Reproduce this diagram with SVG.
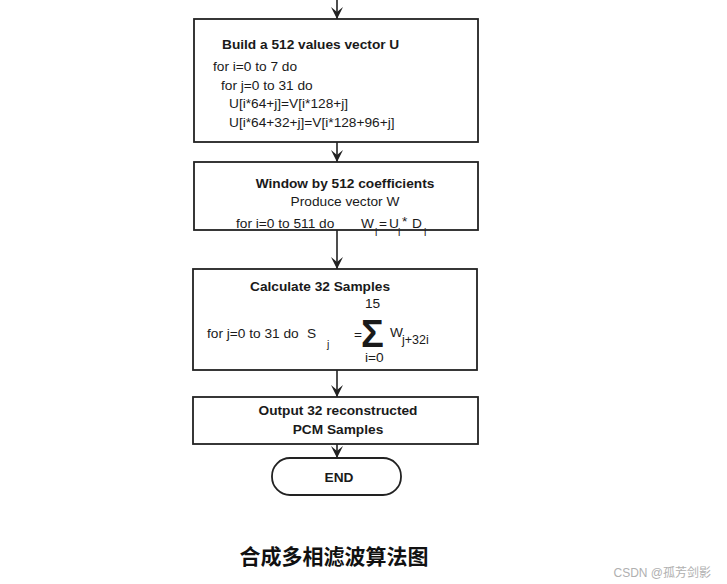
<svg xmlns="http://www.w3.org/2000/svg" width="727" height="584" viewBox="0 0 727 584">
<style>
.box{fill:#fff;stroke:#222;stroke-width:1.8}
.t{font-family:"Liberation Sans",Arial,sans-serif;font-size:13.7px;fill:#1a1a1a}
.b{font-weight:bold}
.c{text-anchor:middle}
.s{font-size:10.5px}
.conn{stroke:#222;stroke-width:1.6;fill:none;marker-end:url(#ah)}
</style>
<defs>
<marker id="ah" viewBox="0 0 12 12" refX="12" refY="6" markerWidth="12" markerHeight="12" markerUnits="userSpaceOnUse" orient="auto">
<path d="M0,0 L12,6 L0,12 L5,6 Z" fill="#222"/>
</marker>
</defs>
<rect width="727" height="584" fill="#fff"/>
<g id="connectors">
<line class="conn" x1="337" y1="0" x2="337" y2="19"/>
<line class="conn" x1="337" y1="142" x2="337" y2="162"/>
<line class="conn" x1="337" y1="230" x2="337" y2="269"/>
<line class="conn" x1="337" y1="370" x2="337" y2="397"/>
<line class="conn" x1="337" y1="444" x2="337" y2="458"/>
</g>
<g id="build">
<rect class="box" x="194" y="19" width="284" height="123"/>
<text class="t b" x="222" y="49">Build a 512 values vector U</text>
<text class="t" x="213" y="71">for i=0 to 7 do</text>
<text class="t" x="221" y="90">for j=0 to 31 do</text>
<text class="t" x="229" y="108">U[i*64+j]=V[i*128+j]</text>
<text class="t" x="229" y="127">U[i*64+32+j]=V[i*128+96+j]</text>
</g>
<g id="window">
<rect class="box" x="194" y="162" width="284" height="68"/>
<text class="t b c" x="345" y="188">Window by 512 coefficients</text>
<text class="t c" x="345" y="206">Produce vector W</text>
<text class="t" x="236" y="228">for i=0 to 511 do</text>
<text class="t" x="361" y="228">W</text>
<text class="t s" x="375" y="236">i</text>
<text class="t" x="379" y="228">=</text>
<text class="t" x="389" y="228">U</text>
<text class="t s" x="398" y="236">i</text>
<text class="t" x="402" y="226">*</text>
<text class="t" x="412" y="228">D</text>
<text class="t s" x="424" y="236">i</text>
</g>
<g id="calculate">
<rect class="box" x="193" y="269" width="284" height="101"/>
<text class="t b" x="250" y="291">Calculate 32 Samples</text>
<text class="t" x="365" y="308">15</text>
<text class="t" x="207" y="338">for j=0 to 31 do</text>
<text class="t" x="307" y="338">S</text>
<text class="t s" x="327" y="348">j</text>
<text class="t" x="354" y="339">=</text>
<text class="t b" x="361" y="347" style="font-size:38px">Σ</text>
<text class="t" x="390" y="337">W</text>
<text class="t" x="402" y="344" style="font-size:12.5px">j+32i</text>
<text class="t" x="365" y="362">i=0</text>
</g>
<g id="output">
<rect class="box" x="193" y="397" width="285" height="47"/>
<text class="t b c" x="338" y="415">Output 32 reconstructed</text>
<text class="t b c" x="338" y="434">PCM Samples</text>
</g>
<g id="end">
<rect class="box" x="272" y="458" width="129" height="37" rx="18" ry="18"/>
<text class="t b c" x="339" y="482">END</text>
</g>
<text x="334" y="564" text-anchor="middle" style="font-family:'Noto Sans CJK SC',sans-serif;font-size:21px;font-weight:bold;fill:#111">合成多相滤波算法图</text>
<text x="711" y="577" text-anchor="end" style="font-family:'Liberation Sans','Noto Sans CJK SC',sans-serif;font-size:12px;fill:#b0b0b0">CSDN @孤芳剑影</text>
</svg>
